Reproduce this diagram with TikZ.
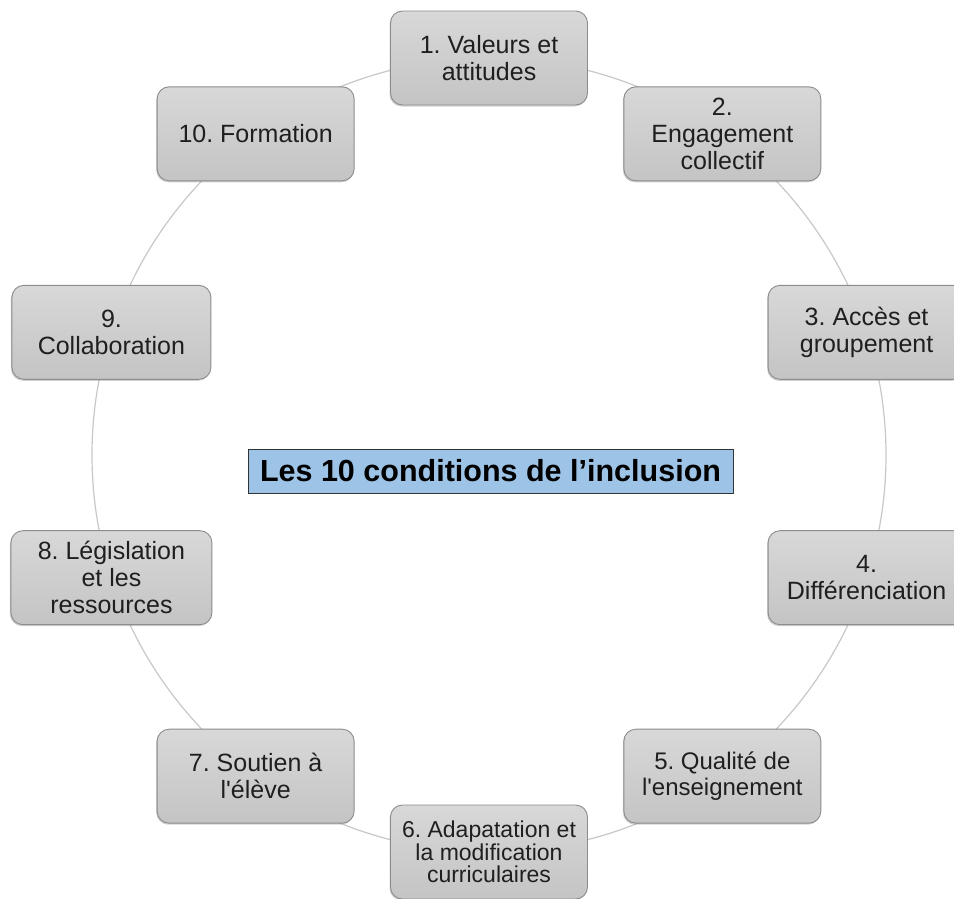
\documentclass[tikz,border=0pt]{standalone}
\usepackage{fontspec}
\setmainfont{Liberation Sans}[Ligatures=TeXOff]
\frenchspacing
\usetikzlibrary{calc,shadows}
\definecolor{ringgray}{HTML}{C8C8C8}
\definecolor{boxtop}{HTML}{D8D8D8}
\definecolor{boxbot}{HTML}{C4C4C4}
\definecolor{boxline}{HTML}{8C8C8C}
\definecolor{titleblue}{HTML}{9DC3E6}
\tikzset{
  condbox/.style={draw=boxline, line width=0.9pt, rounded corners=12pt,
    top color=boxtop, bottom color=boxbot,
    drop shadow={shadow xshift=-1pt, shadow yshift=-1.5pt, opacity=0.35, fill=gray},
    minimum width=197pt, minimum height=94pt, align=center, inner sep=2pt,
    font=\frenchspacing\fontsize{25}{27}\selectfont, text=black!88},
  ring/.style={draw=ringgray, line width=1.2pt},
  titlebox/.style={draw=black!80, line width=1pt, fill=titleblue,
    minimum width=485pt, minimum height=44pt, inner sep=0pt,
    font=\fontsize{30.5}{32}\selectfont\bfseries}
}
\begin{document}
\begin{tikzpicture}[x=1pt,y=-1pt]
\useasboundingbox (0,0) rectangle (954,898);
\clip (0,0) rectangle (954,898);
\fill[white] (0,0) rectangle (954,898);
\coordinate (c) at (489,455);
\draw[ring] (c) circle[radius=397pt];
\node[condbox] (n1) at ($(c)+(90:397pt)$) {1. Valeurs et\\attitudes};
\node[condbox] (n2) at ($(c)+(54:397pt)$) {2.\\Engagement\\collectif};
\node[condbox] (n3) at ($(c)+(18:397pt)$) {3. Accès et\\groupement};
\node[condbox] (n4) at ($(c)+(-18:397pt)$) {4.\\Différenciation};
\node[condbox, font=\frenchspacing\fontsize{24}{26}\selectfont] (n5) at ($(c)+(-54:397pt)$) {5. Qualité de\\l'enseignement};
\node[condbox, font=\frenchspacing\fontsize{23}{22.5}\selectfont] (n6) at ($(c)+(-90:397pt)$) {6. Adapatation et\\la modification\\curriculaires};
\node[condbox] (n7) at ($(c)+(-126:397pt)$) {7. Soutien à\\l'élève};
\node[condbox, minimum width=201pt] (n8) at ($(c)+(-162:397pt)$) {8. Législation\\et les\\ressources};
\node[condbox, minimum width=199pt] (n9) at ($(c)+(162:397pt)$) {9.\\Collaboration};
\node[condbox] (n10) at ($(c)+(126:397pt)$) {10. Formation};
\node[titlebox] (title) at (490.5,471) {Les 10 conditions de l’inclusion};
\end{tikzpicture}
\end{document}
